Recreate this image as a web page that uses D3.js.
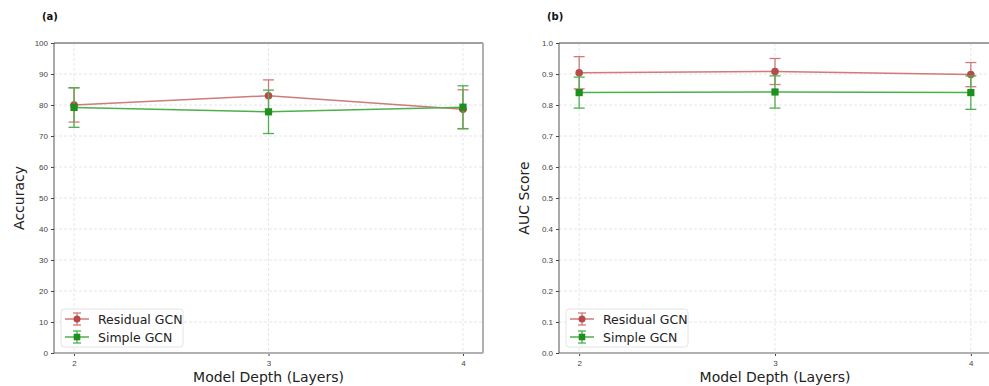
<!DOCTYPE html>
<html>
<head>
<meta charset="utf-8">
<script src="https://cdn.jsdelivr.net/npm/d3@7"></script>
<style>
  body { margin: 0; background: #fff; }
  svg { display: block; font-family: "DejaVu Sans", sans-serif; }
</style>
</head>
<body>
<div id="chart"></div>
<script>
// model depth (layers)
const depths = [2, 3, 4];

// (a) accuracy
const accResidual = [80.0, 83.0, 78.6];
const accResidualErr = [5.5, 5.1, 6.3];
const accSimple = [79.2, 77.8, 79.3];
const accSimpleErr = [6.4, 7.0, 6.9];
const accTicks = [0, 10, 20, 30, 40, 50, 60, 70, 80, 90, 100];

// (b) AUC score
const aucResidual = [0.904, 0.908, 0.898];
const aucResidualErr = [0.052, 0.042, 0.039];
const aucSimple = [0.840, 0.842, 0.840];
const aucSimpleErr = [0.050, 0.052, 0.054];
const aucTicks = [0.0, 0.1, 0.2, 0.3, 0.4, 0.5, 0.6, 0.7, 0.8, 0.9, 1.0];

const seriesNames = ["Residual GCN", "Simple GCN"];

const W = 989, H = 386;
const svg = d3.select("#chart").append("svg")
    .attr("width", W)
    .attr("height", H);

const red = { line: "#d07a7a", mark: "#b94a4a", shape: "circle" };
const green = { line: "#4cb04c", mark: "#1f8f1f", shape: "square" };

function drawPanel(opts) {
    const { left, top, width, height, yDomain, ticks, fmt, yLabel, tag, series } = opts;
    const g = svg.append("g").attr("transform", `translate(${left},${top})`);

    const x = d3.scaleLinear().domain([1.897, 4.103]).range([0, width]);
    const y = d3.scaleLinear().domain(yDomain).range([height, 0]);

    // grid
    g.append("g").selectAll("line").data(ticks).join("line")
        .attr("x1", 0).attr("x2", width)
        .attr("y1", d => y(d)).attr("y2", d => y(d))
        .attr("stroke", "#e0e0e0").attr("stroke-width", 0.8)
        .attr("stroke-dasharray", "3 2");
    g.append("g").selectAll("line").data(depths).join("line")
        .attr("x1", d => x(d)).attr("x2", d => x(d))
        .attr("y1", 0).attr("y2", height)
        .attr("stroke", "#e0e0e0").attr("stroke-width", 0.8)
        .attr("stroke-dasharray", "3 2");

    // axes
    const yAxis = d3.axisLeft(y).tickValues(ticks).tickFormat(fmt).tickSize(3).tickPadding(3);
    const gy = g.append("g").call(yAxis);
    gy.select(".domain").remove();
    gy.selectAll(".tick line").attr("stroke", "#444");
    gy.selectAll("text").attr("fill", "#444").style("font-size", "8px");

    const xAxis = d3.axisBottom(x).tickValues(depths).tickFormat(d3.format("d")).tickSize(3).tickPadding(4);
    const gx = g.append("g").attr("transform", `translate(0,${height})`).call(xAxis);
    gx.select(".domain").remove();
    gx.selectAll(".tick line").attr("stroke", "#444");
    gx.selectAll("text").attr("fill", "#444").style("font-size", "8px");

    // spines
    g.append("line").attr("x1", 0).attr("x2", width).attr("y1", 0).attr("y2", 0)
        .attr("stroke", "#a0a0a0").attr("stroke-width", 2);
    g.append("line").attr("x1", width).attr("x2", width).attr("y1", 0).attr("y2", height)
        .attr("stroke", "#b0b0b0").attr("stroke-width", 2);
    g.append("line").attr("x1", 0).attr("x2", width).attr("y1", height).attr("y2", height)
        .attr("stroke", "#b0b0b0").attr("stroke-width", 2);
    g.append("line").attr("x1", 0).attr("x2", 0).attr("y1", 0).attr("y2", height)
        .attr("stroke", "#555").attr("stroke-width", 1);

    // series
    series.forEach(s => {
        const pts = depths.map((d, i) => ({ x: d, v: s.values[i], e: s.errs[i] }));
        const sg = g.append("g");
        sg.append("path").datum(pts)
            .attr("d", d3.line().x(d => x(d.x)).y(d => y(d.v)))
            .attr("fill", "none").attr("stroke", s.style.line).attr("stroke-width", 1.5);
        const eb = sg.selectAll(".eb").data(pts).join("g").attr("class", "eb");
        eb.append("line")
            .attr("x1", d => x(d.x)).attr("x2", d => x(d.x))
            .attr("y1", d => y(d.v - d.e)).attr("y2", d => y(d.v + d.e))
            .attr("stroke", s.style.line).attr("stroke-width", 1.3);
        [-1, 1].forEach(sgn => {
            eb.append("line")
                .attr("x1", d => x(d.x) - 5.5).attr("x2", d => x(d.x) + 5.5)
                .attr("y1", d => y(d.v + sgn * d.e)).attr("y2", d => y(d.v + sgn * d.e))
                .attr("stroke", s.style.line).attr("stroke-width", 1.3);
        });
        if (s.style.shape === "circle") {
            sg.selectAll("circle").data(pts).join("circle")
                .attr("cx", d => x(d.x)).attr("cy", d => y(d.v)).attr("r", 3.8)
                .attr("fill", s.style.mark);
        } else {
            sg.selectAll("rect").data(pts).join("rect")
                .attr("x", d => x(d.x) - 3.6).attr("y", d => y(d.v) - 3.6)
                .attr("width", 7.2).attr("height", 7.2)
                .attr("fill", s.style.mark);
        }
    });

    // labels
    g.append("text")
        .attr("transform", `translate(${-30},${height / 2}) rotate(-90)`)
        .attr("text-anchor", "middle")
        .attr("fill", "#222")
        .style("font-size", "14px")
        .text(yLabel);
    g.append("text")
        .attr("x", x(3)).attr("y", height + 29)
        .attr("text-anchor", "middle")
        .attr("fill", "#222")
        .style("font-size", "14px")
        .text("Model Depth (Layers)");
    g.append("text")
        .attr("x", -12).attr("y", -23)
        .attr("font-weight", "bold")
        .attr("fill", "#111")
        .style("font-size", "10px")
        .text(tag);

    // legend
    const lg = g.append("g").attr("transform", `translate(7,${height - 44})`);
    lg.append("rect").attr("width", 122).attr("height", 38).attr("rx", 3)
        .attr("fill", "#fff").attr("fill-opacity", 0.85)
        .attr("stroke", "#ddd").attr("stroke-width", 0.8);
    series.forEach((s, i) => {
        const cy = 10 + i * 18;
        const row = lg.append("g").attr("transform", `translate(0,${cy})`);
        row.append("line").attr("x1", 4).attr("x2", 28).attr("y1", 0).attr("y2", 0)
            .attr("stroke", s.style.line).attr("stroke-width", 1.5);
        row.append("line").attr("x1", 16).attr("x2", 16).attr("y1", -6).attr("y2", 6)
            .attr("stroke", s.style.line).attr("stroke-width", 1.3);
        [-6, 6].forEach(dy => row.append("line").attr("x1", 12).attr("x2", 20)
            .attr("y1", dy).attr("y2", dy).attr("stroke", s.style.line).attr("stroke-width", 1.3));
        if (s.style.shape === "circle") {
            row.append("circle").attr("cx", 16).attr("cy", 0).attr("r", 3.5).attr("fill", s.style.mark);
        } else {
            row.append("rect").attr("x", 12.7).attr("y", -3.3).attr("width", 6.6).attr("height", 6.6).attr("fill", s.style.mark);
        }
        row.append("text").attr("x", 37).attr("y", 4.5)
            .attr("fill", "#222").style("font-size", "12.5px")
            .text(s.name);
    });
}

drawPanel({
    left: 54, top: 43, width: 429, height: 310,
    yDomain: [0, 100], ticks: accTicks, fmt: d3.format("d"),
    yLabel: "Accuracy", tag: "(a)",
    series: [
        { name: seriesNames[0], values: accResidual, errs: accResidualErr, style: red },
        { name: seriesNames[1], values: accSimple, errs: accSimpleErr, style: green }
    ]
});

drawPanel({
    left: 559, top: 43, width: 432, height: 310,
    yDomain: [0, 1], ticks: aucTicks, fmt: d3.format(".1f"),
    yLabel: "AUC Score", tag: "(b)",
    series: [
        { name: seriesNames[0], values: aucResidual, errs: aucResidualErr, style: red },
        { name: seriesNames[1], values: aucSimple, errs: aucSimpleErr, style: green }
    ]
});
</script>
</body>
</html>
